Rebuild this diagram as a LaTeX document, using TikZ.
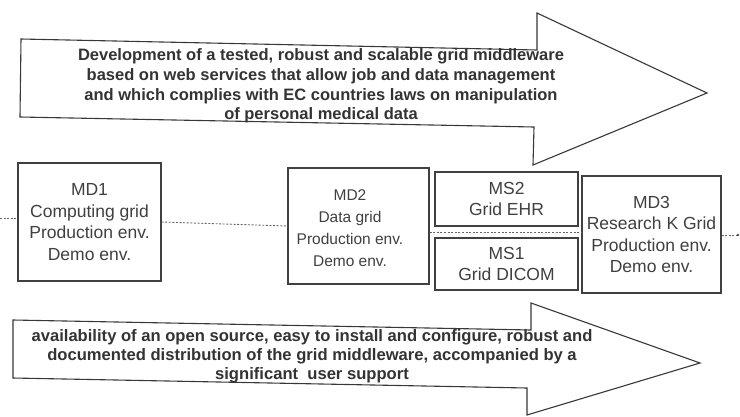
\documentclass[tikz,border=0pt]{standalone}
\usepackage{fontspec}
\setmainfont{Liberation Sans}
\begin{document}
\begin{tikzpicture}[x=1pt,y=-1pt,
  outline/.style={draw=black!78, line width=1.1pt, line join=miter},
  bigtext/.style={font=\fontsize{16.5}{19.7}\selectfont\bfseries, text=black!80, align=center, inner sep=0pt},
  smalltext/.style={font=\fontsize{16.6}{19.2}\selectfont\bfseries, text=black!80, align=center, inner sep=0pt},
  box/.style={draw=black!75, line width=1.1pt, inner sep=0pt, align=center, font=\fontsize{17.5}{21.5}\selectfont, text=black!75},
  boxtext/.style={inner sep=0pt, align=center, text=black!75},
  link/.style={draw=black!60, line width=0.9pt, dash pattern=on 2pt off 1.6pt}]
\useasboundingbox (0,0) rectangle (740,416);
\fill[white] (0,0) rectangle (740,416);
% top arrow
\draw[outline] (21,39) -- (537,50) -- (537,13) -- (707,93) -- (533,165) -- (534,127) -- (20,117) -- cycle;
\node[bigtext] (goal) at (321,86) {Development of a tested, robust and scalable grid middleware\\based on web services that allow job and data management\\and which complies with EC countries laws on manipulation\\of personal medical data};
% bottom arrow
\draw[outline] (13,320) -- (531,330) -- (531,303) -- (700,363) -- (527,415) -- (527,388) -- (13,378) -- cycle;
\node[smalltext] (dist) at (312,356) {availability of an open source, easy to install and configure, robust and\\documented distribution of the grid middleware, accompanied by a\\significant\ \ user support};
% boxes
\node[box, minimum width=143pt, minimum height=118pt] (md1) at (89.5,222) {MD1\\Computing grid\\Production env.\\Demo env.};
\node[box, minimum width=141pt, minimum height=116pt] (md2) at (358.5,226) {};
\node[boxtext, font=\fontsize{15.5}{22}\selectfont] (md2t) at (350,228) {MD2\\Data grid\\Production env.\\Demo env.};
\node[box, minimum width=143pt, minimum height=54pt] (ms2) at (506.5,199) {MS2\\Grid EHR};
\node[box, minimum width=143pt, minimum height=52pt] (ms1) at (506.5,264) {MS1\\Grid DICOM};
\node[box, minimum width=139pt, minimum height=117pt] (md3) at (651.5,234.5) {MD3\\Research K Grid\\Production env.\\Demo env.};
% links
\coordinate (westend) at (0,218);
\coordinate (eastend) at (738,235);
\coordinate (mid) at (505,232);
\draw[link] (westend) -- (westend -| md1.west);
\draw[link] (md1.east) -- (md2.west);
\draw[link] (mid -| md2.east) -- (mid -| md3.west);
\draw[link] (md3.east |- eastend) -- (eastend);
\fill[black!70] (eastend) circle (1.3pt);
\end{tikzpicture}
\end{document}
